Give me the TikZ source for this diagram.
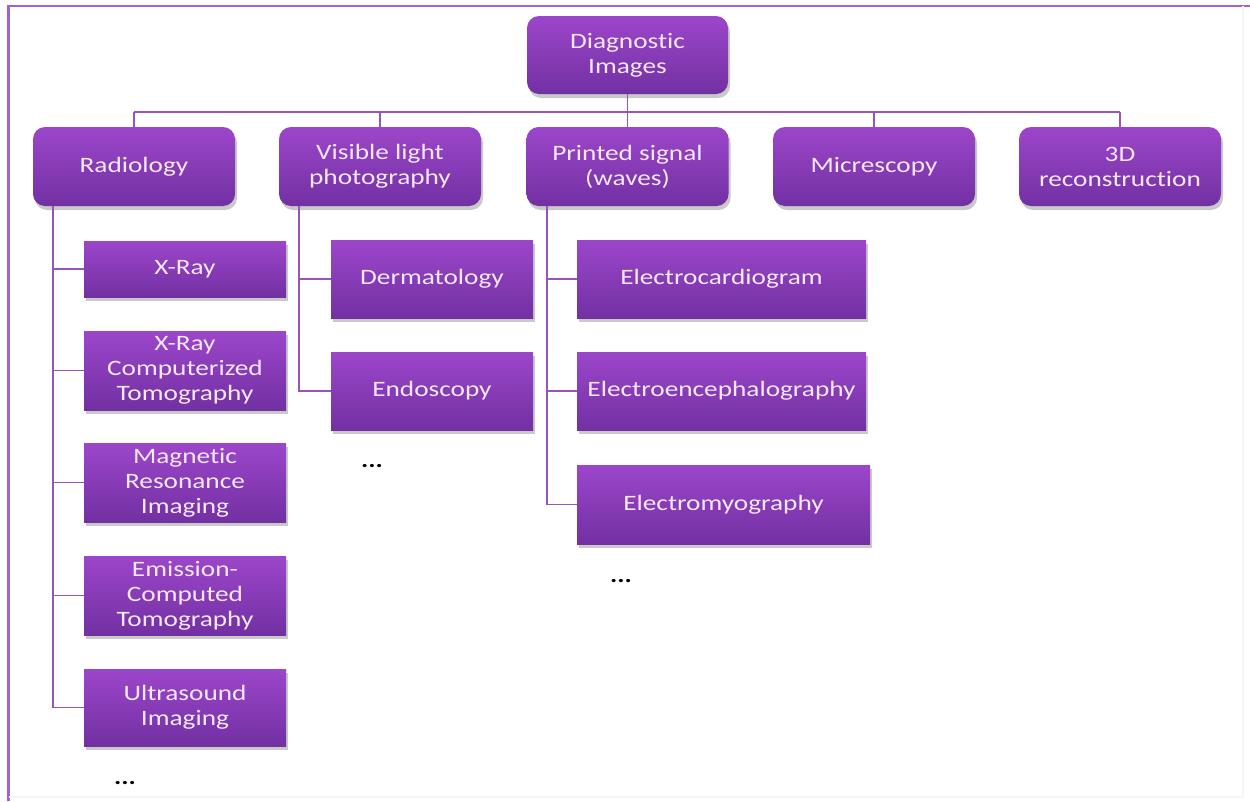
\documentclass[tikz,border=0pt]{standalone}
\usepackage{fontspec}
\setmainfont{Carlito}[FakeStretch=1.24, Ligatures={NoCommon}]
\usetikzlibrary{shadows}
\definecolor{boxtop}{HTML}{9C46CA}
\definecolor{boxbot}{HTML}{7230A2}
\definecolor{boxtxt}{HTML}{F4E8F6}
\definecolor{linec}{HTML}{9555BD}
\definecolor{framec}{HTML}{A262CC}
\tikzset{
  base/.style={draw=none, top color=boxtop, bottom color=boxbot, text=boxtxt,
    align=center, font=\fontsize{22}{25}\selectfont, inner sep=0pt,
    drop shadow={opacity=0.35, shadow xshift=2pt, shadow yshift=-4pt, fill=black!60}},
  rbox/.style={base, rounded corners=12pt, minimum width=202pt, minimum height=79pt},
  sbox/.style={base, minimum width=202pt},
  wbox/.style={base, minimum width=289pt},
  conn/.style={draw=linec, line width=1.6pt},
  more/.style={font=\fontsize{22}{25}\selectfont\bfseries, text=black, inner sep=0pt}
}
\begin{document}
\begin{tikzpicture}[x=1pt, y=-1pt]
\useasboundingbox (0,0) rectangle (1250,801);
\fill[white] (0,0) rectangle (1250,801);
% frame
\draw[framec, line width=2.5pt] (8.5,801) -- (8.5,6) -- (1250,6);
\draw[black!4, line width=1.5pt] (1243,6) -- (1243,797) -- (8.5,797);

% root
\node[rbox, minimum width=201pt, minimum height=78pt] (diag) at (627.5,55) {Diagnostic\\Images};
% level 1
\node[rbox] (rad) at (134,166.5) {Radiology};
\node[rbox] (vlp) at (380,166.5) {Visible light\\photography};
\node[rbox] (ps) at (627.5,166.5) {Printed signal\\(waves)};
\node[rbox] (mic) at (874,166.5) {Micrescopy};
\node[rbox] (rec) at (1120,166.5) {3D\\reconstruction};

% radiology children
\node[sbox, minimum height=56pt] (xray) at (185,269) {X-Ray};
\node[sbox, minimum height=79pt] (xct) at (185,370.5) {X-Ray\\Computerized\\Tomography};
\node[sbox, minimum height=79pt] (mri) at (185,482.5) {Magnetic\\Resonance\\Imaging};
\node[sbox, minimum height=79pt] (ect) at (185,595.5) {Emission-\\Computed\\Tomography};
\node[sbox, minimum height=77pt] (us) at (185,707.5) {Ultrasound\\Imaging};
\node[more] (d1) at (125,783) {...};

% visible light children
\node[sbox, minimum height=78pt] (derm) at (432,279) {Dermatology};
\node[sbox, minimum height=78pt] (endo) at (432,391) {Endoscopy};
\node[more] (d2) at (372,466) {...};

% printed signal children
\node[wbox, minimum height=78pt] (ecg) at (721.5,279) {Electrocardiogram};
\node[wbox, minimum height=78pt] (eeg) at (721.5,391) {Electroencephalography};
\node[wbox, minimum height=79pt, minimum width=293pt] (emg) at (723.5,504.5) {Electromyography};
\node[more] (d3) at (621,581) {...};

% connectors
\coordinate (busL) at (134,112);
\coordinate (busR) at (1120,112);
\draw[conn] (busL) -- (busR);
\draw[conn] (diag.south) -- (ps.north);
\draw[conn] (busL) -- (rad.north);
\draw[conn] (vlp.north |- busL) -- (vlp.north);
\draw[conn] (mic.north |- busL) -- (mic.north);
\draw[conn] (busR) -- (rec.north);

\coordinate (rl) at (53,0);
\draw[conn] (rl |- rad.south) -- (rl |- us.west) -- (us.west);
\foreach \n in {xray,xct,mri,ect}
  \draw[conn] (rl |- \n.west) -- (\n.west);

\coordinate (vl) at (299,0);
\draw[conn] (vl |- vlp.south) -- (vl |- endo.west) -- (endo.west);
\draw[conn] (vl |- derm.west) -- (derm.west);

\coordinate (pl) at (547,0);
\draw[conn] (pl |- ps.south) -- (pl |- emg.west) -- (emg.west);
\draw[conn] (pl |- ecg.west) -- (ecg.west);
\draw[conn] (pl |- eeg.west) -- (eeg.west);
\end{tikzpicture}
\end{document}
